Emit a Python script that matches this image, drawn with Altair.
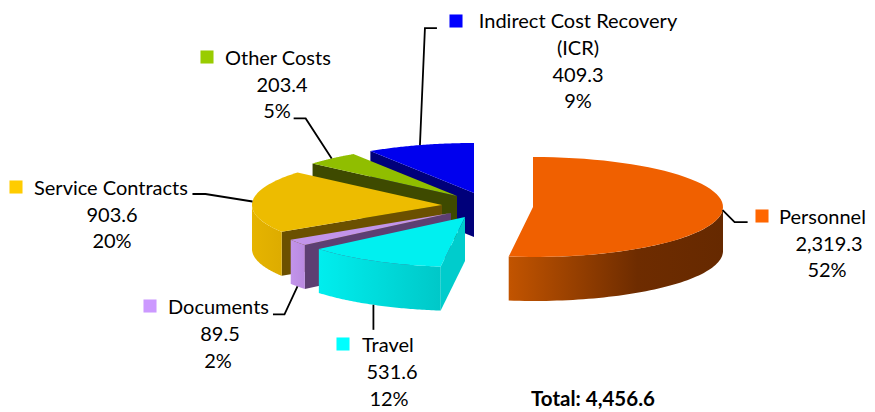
import math
import altair as alt
import pandas as pd

# ---- data -----------------------------------------------------------------
categories = ["Personnel", "Travel", "Documents", "Service Contracts", "Other Costs", "Indirect Cost Recovery (ICR)"]
values = [2319.3, 531.6, 89.5, 903.6, 203.4, 409.3]
value_labels = ["2,319.3", "531.6", "89.5", "903.6", "203.4", "409.3"]
pct_labels = ["52%", "12%", "2%", "20%", "5%", "9%"]
total_label = "Total: 4,456.6"

# ---- colours --------------------------------------------------------------
legend_colors = ["#FF6600", "#00FFFF", "#CC99FF", "#FFCC00", "#99CC00", "#0000FF"]
top_colors = ["#F06000", "#00F0F0", "#C294EA", "#EDBC00", "#90BE00", "#0000EE"]
radial_colors = [None, "#00CCCC", "#5D3F72", "#6B5000", "#3E4A00", "#00007A"]
wall_stops = [
    [("#C25400", 0), ("#6E2C00", .6), ("#662900", 1)],
    [("#00EEEE", 0), ("#00C8C8", 1)],
    [("#C294EA", 0), ("#B98AE0", 1)],
    [("#E6B400", 0), ("#DDAC00", 1)],
    None,
    None,
]

# ---- pie geometry ---------------------------------------------------------
RX, RY, DEPTH = 190, 50, 44
centers = [(533, 207), (465, 217), (451, 213), (442, 205), (457, 196), (474, 193)]
draw_order = [5, 4, 0, 3, 2, 1]  # back to front
total = sum(values)
starts, ends = [], []
acc = 0.0
for v in values:
    starts.append(acc / total * 360)
    acc += v
    ends.append(acc / total * 360)


def pt(i, deg, drop=0):
    a = math.radians(deg)
    cx, cy = centers[i]
    return cx + RX * math.sin(a), cy - RY * math.cos(a) + drop


def arc(i, a0, a1, drop=0, n=60):
    return [pt(i, a0 + (a1 - a0) * k / n, drop) for k in range(n + 1)]


# ---- scales: page pixels ---------------------------------------------------
W, H = 859, 404
xs = alt.Scale(domain=[8, 8 + W], range=[0, W], nice=False, zero=False)
ys = alt.Scale(domain=[8 + H, 8], range=[H, 0], nice=False, zero=False)
X = lambda f="x": alt.X(f"{f}:Q", scale=xs, axis=None)
Y = lambda f="y": alt.Y(f"{f}:Q", scale=ys, axis=None)


def poly(points, fill):
    df = pd.DataFrame({"x": [p[0] for p in points], "y": [p[1] for p in points], "i": range(len(points))})
    return alt.Chart(df).mark_line(fill=fill, strokeWidth=0, interpolate="linear").encode(
        x=X(), y=Y(), order=alt.Order("i:Q")
    )


def gradient(stops):
    return alt.Gradient(
        gradient="linear", x1=0, x2=1, y1=0, y2=0,
        stops=[alt.GradientStop(color=c, offset=o) for c, o in stops],
    )


layers = []
for i in draw_order:
    s, e = starts[i], ends[i]
    apex = centers[i]
    if radial_colors[i]:
        p = pt(i, s)
        layers.append(poly([apex, p, (p[0], p[1] + DEPTH), (apex[0], apex[1] + DEPTH)], radial_colors[i]))
    a0, a1 = max(s, 90), min(e, 270)
    if a0 < a1 and wall_stops[i]:
        layers.append(poly(arc(i, a0, a1) + arc(i, a1, a0, DEPTH), gradient(wall_stops[i])))
    layers.append(poly([apex] + arc(i, s, e), top_colors[i]))

# ---- leader lines -----------------------------------------------------------
anchor_drop = [0, DEPTH, DEPTH, 0, 0, 0]
elbows = [
    [(12, 12), (25, 12)],
    [(0, 25)],
    [(-13, 28), (-24.5, 28)],
    [(-47, -7.5), (-60, -7.5)],
    [(-26, -40), (-38, -40)],
    [(5, -117), (17, -117)],
]
for i in range(len(values)):
    mid = (starts[i] + ends[i]) / 2
    a = pt(i, mid, anchor_drop[i])
    pts = [a] + [(a[0] + dx, a[1] + dy) for dx, dy in elbows[i]]
    df = pd.DataFrame({"x": [p[0] for p in pts], "y": [p[1] for p in pts], "i": range(len(pts))})
    layers.append(
        alt.Chart(df).mark_line(color="black", strokeWidth=1.8).encode(x=X(), y=Y(), order=alt.Order("i:Q"))
    )

# ---- labels -------------------------------------------------------------------
FONT = "Lato"
FS = 20
name_lines = [["Personnel"], ["Travel"], ["Documents"], ["Service Contracts"], ["Other Costs"], ["Indirect Cost Recovery", "(ICR)"]]
name_left = [779, 362, 168, 34, 225, None]
name_center = [None, None, None, None, None, 578]
name_y = [218, 346, 308, 189, 59, 22]
value_x = [829, 392, 220, 112, 282, 578]
value_y = [245, 373, 335, 216, 86, 76]
pct_x = [827, 389, 218, 112, 277, 578]
pct_y = [271, 399.5, 362, 242, 112, 102]
square_x = [762, 343, 150, 16, 207, 456]
square_y = [216, 344, 306, 187, 57, 21]
LINE = 27

rows_left, rows_center = [], []
for i in range(len(categories)):
    if name_left[i] is not None:
        rows_left.append({"x": name_left[i], "y": name_y[i], "t": name_lines[i][0]})
    else:
        for k, line in enumerate(name_lines[i]):
            rows_center.append({"x": name_center[i], "y": name_y[i] + k * LINE, "t": line})
    rows_center.append({"x": value_x[i], "y": value_y[i], "t": value_labels[i]})
    rows_center.append({"x": pct_x[i], "y": pct_y[i], "t": pct_labels[i]})

txt = dict(font=FONT, fontSize=FS, color="black", baseline="middle")
layers.append(alt.Chart(pd.DataFrame(rows_left)).mark_text(align="left", **txt).encode(x=X(), y=Y(), text="t:N"))
layers.append(alt.Chart(pd.DataFrame(rows_center)).mark_text(align="center", **txt).encode(x=X(), y=Y(), text="t:N"))
layers.append(
    alt.Chart(pd.DataFrame({"x": [531], "y": [399.5], "t": [total_label]}))
    .mark_text(align="left", font=FONT, fontSize=20.5, fontWeight="bold", color="black", baseline="middle")
    .encode(x=X(), y=Y(), text="t:N")
)
layers.append(
    alt.Chart(pd.DataFrame({"x": square_x, "y": square_y, "c": legend_colors}))
    .mark_square(size=170, opacity=1, strokeWidth=0)
    .encode(x=X(), y=Y(), fill=alt.Fill("c:N", scale=None))
)

chart = (
    alt.layer(*layers)
    .properties(width=W, height=H, padding=0, autosize=alt.AutoSizeParams(type="none"))
    .configure_view(stroke=None)
)
chart.save("out.html", embed_options={"renderer": "svg", "actions": False})
